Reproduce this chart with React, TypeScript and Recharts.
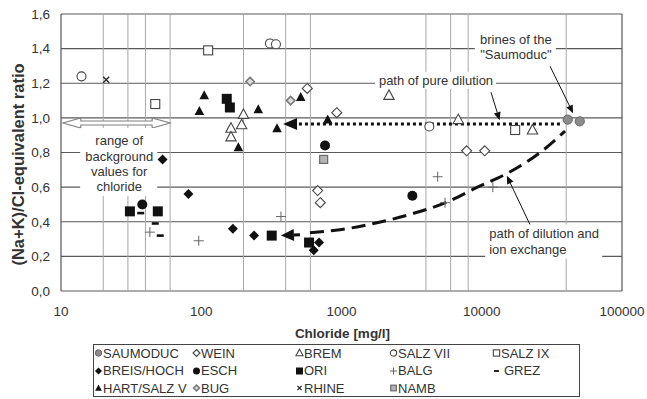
import React from "react";
import {
  ComposedChart,
  Scatter,
  Line,
  XAxis,
  YAxis,
  CartesianGrid,
  ReferenceLine,
  ReferenceDot,
} from "recharts";

// values: chloride [mg/l] vs (Na+K)/Cl ratio
const saumoduc = [{ x: 41000, y: 0.99 }, { x: 50000, y: 0.98 }];
const wein = [
  { x: 570, y: 1.17 }, { x: 925, y: 1.03 }, { x: 676, y: 0.58 },
  { x: 706, y: 0.51 }, { x: 7800, y: 0.81 }, { x: 10500, y: 0.81 },
];
const brem = [
  { x: 200, y: 1.02 }, { x: 194, y: 0.96 }, { x: 163, y: 0.94 }, { x: 163, y: 0.89 },
  { x: 2180, y: 1.13 }, { x: 6800, y: 0.99 }, { x: 23000, y: 0.93 },
];
const salzVII = [{ x: 14, y: 1.24 }, { x: 309, y: 1.43 }, { x: 341, y: 1.425 }, { x: 4230, y: 0.95 }];
const salzIX = [{ x: 47, y: 1.08 }, { x: 112, y: 1.39 }, { x: 17300, y: 0.93 }];
const breisHoch = [
  { x: 53, y: 0.76 }, { x: 81, y: 0.56 }, { x: 168, y: 0.36 },
  { x: 238, y: 0.32 }, { x: 692, y: 0.28 }, { x: 634, y: 0.235 },
];
const esch = [{ x: 38, y: 0.5 }, { x: 763, y: 0.84 }, { x: 3200, y: 0.55 }];
const ori = [
  { x: 31, y: 0.46 }, { x: 49, y: 0.46 }, { x: 152, y: 1.11 },
  { x: 160, y: 1.06 }, { x: 318, y: 0.32 }, { x: 587, y: 0.28 },
];
const balg = [
  { x: 43, y: 0.34 }, { x: 96, y: 0.29 }, { x: 370, y: 0.43 },
  { x: 4850, y: 0.66 }, { x: 5470, y: 0.51 }, { x: 12000, y: 0.6 },
];
const grez = [{ x: 37, y: 0.45 }, { x: 47, y: 0.39 }, { x: 51, y: 0.32 }];
const hartSalzV = [
  { x: 105, y: 1.13 }, { x: 97, y: 1.04 }, { x: 255, y: 1.05 }, { x: 184, y: 0.83 },
  { x: 347, y: 0.94 }, { x: 512, y: 1.12 }, { x: 797, y: 0.99 },
];
const bug = [{ x: 223, y: 1.21 }, { x: 434, y: 1.1 }];
const rhine = [{ x: 21, y: 1.22 }];
const namb = [{ x: 746, y: 0.76 }];

// dashed "path of dilution and ion exchange"
const ionExchangePath = [
  { x: 596, y: 0.337 }, { x: 975, y: 0.354 }, { x: 1790, y: 0.394 }, { x: 3190, y: 0.446 },
  { x: 5470, y: 0.509 }, { x: 9400, y: 0.601 }, { x: 15400, y: 0.682 },
  { x: 26400, y: 0.803 }, { x: 39300, y: 0.924 },
];

const xTicks = [10, 100, 1000, 10000, 100000];
const yTicks = [0, 0.2, 0.4, 0.6, 0.8, 1.0, 1.2, 1.4, 1.6];
const xGuides = [20, 30, 40, 60, 200, 400, 600, 4000, 6000, 8000, 40000];

const series = [
  { name: "SAUMODUC", data: saumoduc, marker: "greyCircle" },
  { name: "WEIN", data: wein, marker: "openDiamond" },
  { name: "BREM", data: brem, marker: "openTriangle" },
  { name: "SALZ VII", data: salzVII, marker: "openCircle" },
  { name: "SALZ IX", data: salzIX, marker: "openSquare" },
  { name: "BREIS/HOCH", data: breisHoch, marker: "diamond" },
  { name: "ESCH", data: esch, marker: "circle" },
  { name: "ORI", data: ori, marker: "square" },
  { name: "BALG", data: balg, marker: "plus" },
  { name: "GREZ", data: grez, marker: "dash" },
  { name: "HART/SALZ V", data: hartSalzV, marker: "triangle" },
  { name: "BUG", data: bug, marker: "greyDiamond" },
  { name: "RHINE", data: rhine, marker: "cross" },
  { name: "NAMB", data: namb, marker: "greySquare" },
];

const INK = "#111";
const EDGE = "#444";

function marker(kind: string, cx: number, cy: number, k = 1) {
  const d = (pts: number[][]) => pts.map(([a, b]) => `${cx + a * k},${cy + b * k}`).join(" ");
  switch (kind) {
    case "greyCircle":
      return <circle cx={cx} cy={cy} r={4.6 * k} fill="#8c8c8c" stroke="#666" strokeWidth={1} />;
    case "openCircle":
      return <circle cx={cx} cy={cy} r={4.5 * k} fill="#fff" stroke={EDGE} strokeWidth={1.1} />;
    case "circle":
      return <circle cx={cx} cy={cy} r={5 * k} fill={INK} />;
    case "openDiamond":
      return <polygon points={d([[0, -5], [5, 0], [0, 5], [-5, 0]])} fill="#fff" stroke={EDGE} strokeWidth={1.1} />;
    case "diamond":
      return <polygon points={d([[0, -5], [5, 0], [0, 5], [-5, 0]])} fill={INK} />;
    case "greyDiamond":
      return (
        <g>
          <polygon points={d([[0, -4.2], [4.2, 0], [0, 4.2], [-4.2, 0]])} fill="#ddd" stroke="#7a7a7a" strokeWidth={1.6} />
        </g>
      );
    case "openTriangle":
      return <polygon points={d([[0, -5.5], [5.2, 4], [-5.2, 4]])} fill="#fff" stroke={EDGE} strokeWidth={1.1} />;
    case "triangle":
      return <polygon points={d([[0, -5], [4.8, 4], [-4.8, 4]])} fill={INK} />;
    case "openSquare":
      return <rect x={cx - 4.5 * k} y={cy - 4.5 * k} width={9 * k} height={9 * k} fill="#fff" stroke={EDGE} strokeWidth={1.1} />;
    case "square":
      return <rect x={cx - 5 * k} y={cy - 5 * k} width={10 * k} height={10 * k} fill={INK} />;
    case "greySquare":
      return <rect x={cx - 4 * k} y={cy - 4 * k} width={8 * k} height={8 * k} fill="#b5b5b5" stroke="#6a6a6a" strokeWidth={1.2} />;
    case "plus":
      return (
        <path d={`M${cx - 5 * k},${cy}H${cx + 5 * k}M${cx},${cy - 5 * k}V${cy + 5 * k}`} stroke="#666" strokeWidth={1} />
      );
    case "cross":
      return (
        <path
          d={`M${cx - 3 * k},${cy - 3 * k}L${cx + 3 * k},${cy + 3 * k}M${cx + 3 * k},${cy - 3 * k}L${cx - 3 * k},${cy + 3 * k}`}
          stroke="#222"
          strokeWidth={1.3}
        />
      );
    case "dash":
      return <rect x={cx - 3.5 * k} y={cy - 1.3 * k} width={7 * k} height={2.6 * k} fill={INK} />;
    default:
      return <circle cx={cx} cy={cy} r={4} />;
  }
}

// line with a filled head at (x2, y2)
const arrow = (len: number, half: number, width: number, dash?: string) => (p: any) => {
  const { x1, y1, x2, y2 } = p;
  const dx = x2 - x1;
  const dy = y2 - y1;
  const dist = Math.hypot(dx, dy) || 1;
  const ux = dx / dist;
  const uy = dy / dist;
  const bx = x2 - ux * len;
  const by = y2 - uy * len;
  const nx = -uy;
  const ny = ux;
  return (
    <g>
      <line x1={x1} y1={y1} x2={bx} y2={by} stroke={INK} strokeWidth={width} strokeDasharray={dash} />
      <polygon
        points={`${x2},${y2} ${bx + nx * half},${by + ny * half} ${bx - nx * half},${by - ny * half}`}
        fill={INK}
      />
    </g>
  );
};

// hollow two-headed arrow for the background range
const rangeArrow = (p: any) => {
  const { x1, x2, y1 } = p;
  const L = 18;
  const H = 5;
  const h = 2;
  const y = y1;
  const pts = [
    [x1, y], [x1 + L, y - H], [x1 + L, y - h], [x2 - L, y - h], [x2 - L, y - H],
    [x2, y], [x2 - L, y + H], [x2 - L, y + h], [x1 + L, y + h], [x1 + L, y + H],
  ];
  return <polygon points={pts.map((q) => q.join(",")).join(" ")} fill="#fff" stroke="#808080" strokeWidth={1.1} />;
};

// text block with a white backing, anchored on a data point
const note =
  (lines: string[], box: { dx: number; dy: number; w: number; h: number }, align: "middle" | "start", lh: number) =>
  (p: any) => (
    <g>
      <rect x={p.cx + box.dx} y={p.cy + box.dy} width={box.w} height={box.h} fill="#fff" />
      {lines.map((t, i) => (
        <text
          key={i}
          x={p.cx}
          y={p.cy + (i - (lines.length - 1) / 2) * lh}
          textAnchor={align}
          dominantBaseline="central"
          fontSize={13}
          fill="#333"
        >
          {t}
        </text>
      ))}
    </g>
  );

const legendCols = [0, 98, 201, 295, 398];

export default function App() {
  return (
    <div
      style={{
        position: "absolute",
        left: 0,
        top: 0,
        width: 647,
        height: 399,
        background: "#fff",
        fontFamily: "'Liberation Sans', Arial, sans-serif",
      }}
    >
      <ComposedChart width={647} height={399} margin={{ top: 14, right: 25, bottom: 58, left: 0 }}>
        <CartesianGrid vertical={false} stroke="#5a5a5a" strokeWidth={1.2} />
        <XAxis
          dataKey="x"
          type="number"
          scale="log"
          domain={[10, 100000]}
          allowDataOverflow
          ticks={xTicks}
          interval={0}
          height={50}
          tickLine={false}
          axisLine={false}
          tickMargin={9}
          tick={{ fontSize: 13.5, fill: "#333" }}
          label={(p: any) => {
            const vb = p.viewBox ?? { x: 61, width: 561 };
            return (
              <text x={vb.x + vb.width / 2 + 1} y={333} textAnchor="middle" dominantBaseline="central" fontSize={13.5} fontWeight="bold" fill="#333">
                Chloride [mg/l]
              </text>
            );
          }}
        />
        <YAxis
          dataKey="y"
          type="number"
          domain={[0, 1.6]}
          ticks={yTicks}
          interval={0}
          width={61}
          tickLine={false}
          axisLine={false}
          tickMargin={5}
          tick={{ fontSize: 13.5, fill: "#333" }}
          tickFormatter={(v: number) => v.toFixed(1).replace(".", ",")}
          label={(p: any) => {
            const vb = p.viewBox ?? { y: 14, height: 277 };
            const cx = 18;
            const cy = vb.y + vb.height / 2 + 12;
            return (
              <text x={cx} y={cy} transform={`rotate(-90 ${cx} ${cy})`} textAnchor="middle" dominantBaseline="central" fontSize={16.5} fontWeight="bold" fill="#333">
                (Na+K)/Cl-equivalent ratio
              </text>
            );
          }}
        />

        {xGuides.map((g) => (
          <ReferenceLine key={g} x={g} stroke="#a8a8a8" strokeWidth={1} />
        ))}
        <ReferenceLine x={10} stroke="#555" strokeWidth={1.2} />
        <ReferenceLine x={100000} stroke="#555" strokeWidth={1.2} />

        {/* annotation text blocks */}
        <ReferenceDot
          x={26}
          y={0.734}
          shape={note(["range of", "background", "values for", "chloride"], { dx: -39, dy: -36, w: 77, h: 68 }, "middle", 15.3)}
        />
        <ReferenceDot
          x={17500}
          y={1.41}
          shape={note(["brines of the", "\"Saumoduc\""], { dx: -41, dy: -16, w: 81, h: 31 }, "middle", 15)}
        />
        <ReferenceDot
          x={4720}
          y={1.217}
          shape={note(["path of pure dilution"], { dx: -61, dy: -8.5, w: 121, h: 17 }, "middle", 15)}
        />
        <ReferenceDot
          x={11300}
          y={0.285}
          shape={note(["path of dilution and", "ion exchange"], { dx: -4, dy: -17, w: 117, h: 34 }, "start", 16)}
        />

        {/* arrows */}
        <ReferenceLine segment={[{ x: 10.3, y: 0.97 }, { x: 60, y: 0.97 }]} shape={rangeArrow} />
        <ReferenceLine segment={[{ x: 36100, y: 0.964 }, { x: 383, y: 0.964 }]} shape={arrow(14, 6, 3, "3 3")} />
        <ReferenceLine segment={[{ x: 506, y: 0.325 }, { x: 370, y: 0.32 }]} shape={arrow(13, 6, 3)} />
        <ReferenceLine segment={[{ x: 30700, y: 1.298 }, { x: 44800, y: 1.027 }]} shape={arrow(8, 3.5, 1)} />
        <ReferenceLine segment={[{ x: 11640, y: 1.148 }, { x: 13400, y: 0.987 }]} shape={arrow(8, 3.5, 1)} />
        <ReferenceLine segment={[{ x: 22100, y: 0.383 }, { x: 15100, y: 0.665 }]} shape={arrow(8, 3.5, 1)} />

        <Line
          data={ionExchangePath}
          dataKey="y"
          type="monotone"
          stroke={INK}
          strokeWidth={3}
          strokeDasharray="14 7"
          dot={false}
          activeDot={false}
          legendType="none"
          isAnimationActive={false}
        />

        {series.map((s) => (
          <Scatter
            key={s.name}
            name={s.name}
            data={s.data}
            dataKey="y"
            isAnimationActive={false}
            shape={(p: any) => marker(s.marker, p.cx, p.cy)}
          />
        ))}
      </ComposedChart>

      <div
        style={{
          position: "absolute",
          left: 93,
          top: 344,
          width: 487,
          height: 53,
          border: "1px solid #444",
          boxSizing: "border-box",
        }}
      >
        {series.map((s, i) => {
          const col = i % 5;
          const row = Math.floor(i / 5);
          return (
            <div
              key={s.name}
              style={{
                position: "absolute",
                left: legendCols[col],
                top: row * 17.5,
                height: 16,
                display: "flex",
                alignItems: "center",
                fontSize: 13,
                color: "#333",
                whiteSpace: "nowrap",
              }}
            >
              <svg width={9} height={10} style={{ display: "block" }}>
                {marker(s.marker, 4.5, 5, 0.7)}
              </svg>
              <span style={{ marginLeft: s.marker === "dash" ? 3 : 0 }}>{s.name}</span>
            </div>
          );
        })}
      </div>
    </div>
  );
}
